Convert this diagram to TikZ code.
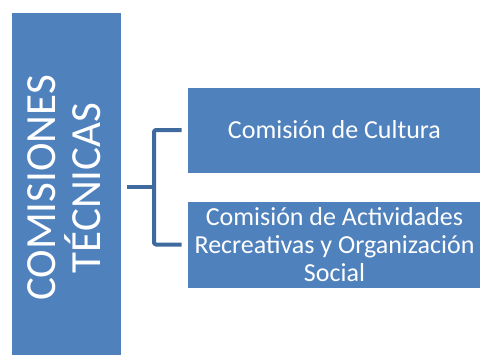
\documentclass[tikz,border=0pt]{standalone}
\usepackage{fontspec}
\setmainfont{Carlito}
\definecolor{cajaazul}{RGB}{79,129,189}
\definecolor{lineaazul}{RGB}{62,106,160}
\begin{document}
\begin{tikzpicture}[x=1pt,y=-1pt,line join=round,
 caja/.style={draw=white,line width=.6pt,fill=cajaazul,text=white,align=center,inner sep=0pt,
 font=\fontsize{26}{28}\selectfont},
 enlace/.style={lineaazul,line width=4pt}]
 \useasboundingbox (0,0) rectangle (480,354);
 \node[caja,minimum width=110pt,minimum height=344pt] (com) at (66,184) {};
 \node[rotate=90,text=white,align=center,font=\fontsize{43}{45}\selectfont] (tit) at (64,188) {COMISIONES\\TÉCNICAS};
 \node[caja,minimum width=295pt,minimum height=86pt] (cul) at (334.5,130) {Comisión de Cultura};
 \node[caja,minimum width=295pt,minimum height=87pt] (soc) at (334.5,244.5)
 {Comisión de Actividades\\Recreativas y Organización\\Social};
 \coordinate (nudo) at (154,187);
 \draw[enlace,shorten <=6pt] (com.east |- nudo) -- (nudo);
 \draw[enlace,rounded corners=2pt,shorten <=5pt,shorten >=5pt] (cul.west) -| (nudo) |- (soc.west);
\end{tikzpicture}
\end{document}
